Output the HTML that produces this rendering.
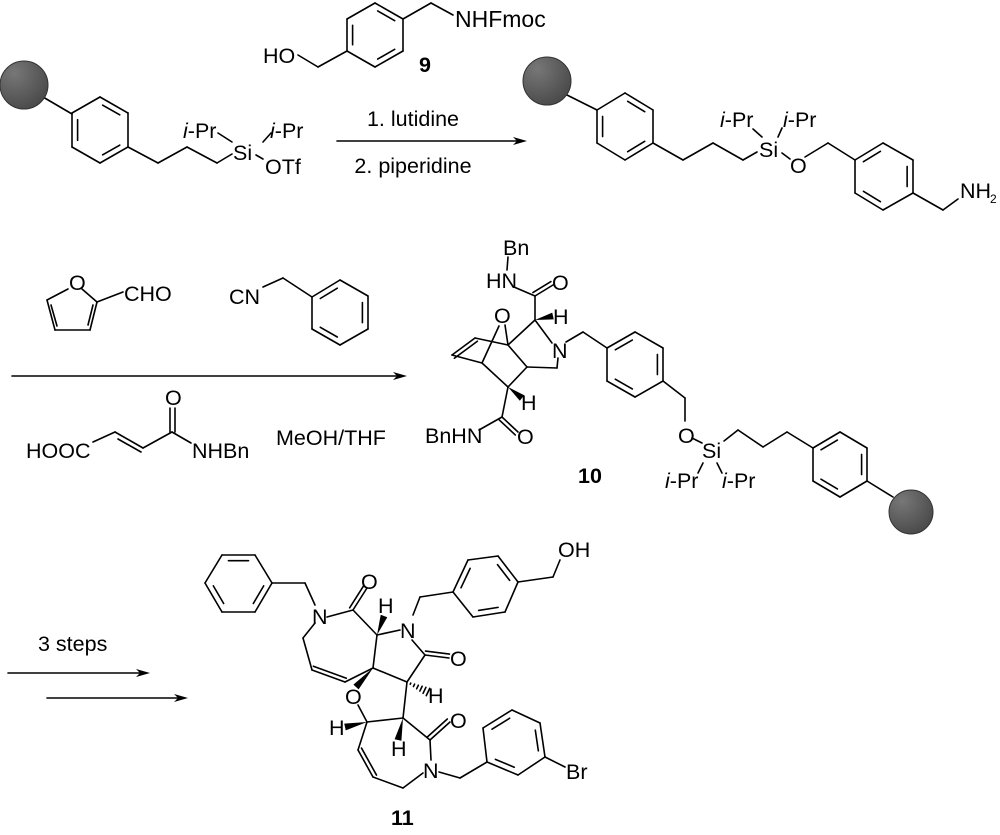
<!DOCTYPE html>
<html><head><meta charset="utf-8"><style>
html,body{margin:0;padding:0;background:#fff;width:1000px;height:835px;overflow:hidden}
svg{display:block}
text{font-family:"Liberation Sans",Arial,sans-serif;font-size:21.5px;fill:#000}
.b{font-weight:bold}
</style></head><body>
<svg id="s" width="1000" height="835" viewBox="0 0 1000 835" xmlns="http://www.w3.org/2000/svg">
<defs>
<radialGradient id="bead" cx="0.3" cy="0.25" r="0.8"><stop offset="0" stop-color="#777"/><stop offset="1" stop-color="#4a4a4a"/></radialGradient>
</defs>
<g id="bonds" stroke="#000" stroke-width="1.6" fill="none" stroke-linecap="round"></g>
<circle cx="24" cy="85" r="24" fill="url(#bead)" stroke="#333" stroke-width="1"/>
<circle cx="547" cy="81" r="24" fill="url(#bead)" stroke="#333" stroke-width="1"/>
<circle cx="911" cy="512" r="22" fill="url(#bead)" stroke="#333" stroke-width="1"/>
<text x="183" y="138"><tspan font-style="italic">i</tspan>-Pr</text>
<text x="270" y="138"><tspan font-style="italic">i</tspan>-Pr</text>
<text x="233" y="160">Si</text>
<text x="265" y="174">OTf</text>
<text x="263" y="63">HO</text>
<text x="455" y="27" style="font-size:23px">NHFmoc</text>
<text class="b" x="419" y="72">9</text>
<text x="413" y="126" text-anchor="middle">1. lutidine</text>
<text x="413" y="173" text-anchor="middle">2. piperidine</text>
<text x="720" y="127"><tspan font-style="italic">i</tspan>-Pr</text>
<text x="783" y="127"><tspan font-style="italic">i</tspan>-Pr</text>
<text x="759" y="157">Si</text>
<text x="790" y="173">O</text>
<text x="960" y="198">NH</text>
<text x="990" y="203" style="font-size:12px">2</text>
<text x="69" y="290">O</text>
<text x="124" y="301">CHO</text>
<text x="229" y="304">CN</text>
<text x="165" y="405">O</text>
<text x="26" y="458">HOOC</text>
<text x="192" y="458">NHBn</text>
<text x="276" y="445">MeOH/THF</text>
<text x="503" y="255">Bn</text>
<text x="486" y="288">HN</text>
<text x="552" y="290">O</text>
<text x="494" y="323">O</text>
<text x="553" y="324">H</text>
<text x="552" y="358">N</text>
<text x="521" y="410">H</text>
<text x="425" y="443">BnHN</text>
<text x="517" y="444">O</text>
<text class="b" x="578" y="483">10</text>
<text x="678" y="443">O</text>
<text x="702" y="458">Si</text>
<text x="665" y="488"><tspan font-style="italic">i</tspan>-Pr</text>
<text x="722" y="488"><tspan font-style="italic">i</tspan>-Pr</text>
<text x="38" y="651">3 steps</text>
<text x="312" y="624">N</text>
<text x="361" y="589">O</text>
<text x="378" y="613">H</text>
<text x="400" y="638">N</text>
<text x="558" y="557">OH</text>
<text x="450" y="666">O</text>
<text x="428" y="703">H</text>
<text x="345" y="704">O</text>
<text x="329" y="735">H</text>
<text x="391" y="756">H</text>
<text x="450" y="728">O</text>
<text x="423" y="778">N</text>
<text x="566" y="779">Br</text>
<text class="b" x="391" y="825">11</text>
</svg>
<script>
var g=document.getElementById('bonds'),NS='http://www.w3.org/2000/svg';
function L(a,b,c,d){var e=document.createElementNS(NS,'line');e.setAttribute('x1',a);e.setAttribute('y1',b);e.setAttribute('x2',c);e.setAttribute('y2',d);g.appendChild(e);}
function P(pts){for(var i=0;i<pts.length-1;i++)L(pts[i][0],pts[i][1],pts[i+1][0],pts[i+1][1]);}
function ring(p,dbl){var cx=0,cy=0;p.forEach(function(q){cx+=q[0];cy+=q[1]});cx/=p.length;cy/=p.length;
 for(var i=0;i<p.length;i++){var a=p[i],b=p[(i+1)%p.length];L(a[0],a[1],b[0],b[1]);}
 dbl.forEach(function(i){var a=p[i],b=p[(i+1)%p.length],f=0.2,s=0.12;
  var a2=[a[0]+(cx-a[0])*f,a[1]+(cy-a[1])*f],b2=[b[0]+(cx-b[0])*f,b[1]+(cy-b[1])*f];
  var dx=b2[0]-a2[0],dy=b2[1]-a2[1];L(a2[0]+dx*s,a2[1]+dy*s,b2[0]-dx*s,b2[1]-dy*s);});}
function dblL(a,b,c,d,o){L(a,b,c,d);var dx=c-a,dy=d-b,l=Math.hypot(dx,dy),nx=-dy/l*o,ny=dx/l*o;L(a+nx,b+ny,c+nx,d+ny);}
function arrow(x1,y,x2){L(x1,y,x2-8,y);var e=document.createElementNS(NS,'polygon');e.setAttribute('points',(x2)+','+y+' '+(x2-14)+','+(y-4)+' '+(x2-10)+','+y+' '+(x2-14)+','+(y+4));e.setAttribute('fill','#000');document.getElementById('s').appendChild(e);}
function wedge(a,b,c,d,w){var dx=c-a,dy=d-b,l=Math.hypot(dx,dy),nx=-dy/l*w,ny=dx/l*w;var e=document.createElementNS(NS,'polygon');e.setAttribute('points',a+','+b+' '+(c+nx)+','+(d+ny)+' '+(c-nx)+','+(d-ny));e.setAttribute('fill','#000');document.getElementById('s').appendChild(e);}
function hash(a,b,c,d,w){var n=6;for(var i=1;i<=n;i++){var t=i/n,x=a+(c-a)*t,y=b+(d-b)*t,dx=c-a,dy=d-b,l=Math.hypot(dx,dy),ww=w*t;L(x-dy/l*ww,y+dx/l*ww,x+dy/l*ww,y-dx/l*ww);}}
L(43,97,72,114);
ring([[100,97],[128,113],[128,147],[100,163],[72,147],[72,113]],[0,2,4]);
P([[128,147],[158,163],[187,147],[217,163],[232,154]]);
L(218,133,232,142);L(263,142,271,133);L(256,155,263,159);
ring([[375,3],[403,19],[403,51],[375,67],[347,51],[347,19]],[0,2,4]);
P([[347,51],[318,67],[298,55]]);P([[403,19],[431,3],[453,15]]);
arrow(337,141,527);
L(567,95,597,110);
ring([[625,93],[653,110],[653,143],[625,160],[597,143],[597,110]],[0,2,4]);
P([[653,143],[683,160],[713,143],[743,160],[757,152]]);
L(753,129,762,137);L(778,137,782,128);L(782,153,790,159);
P([[805,157],[828,143],[855,160]]);
ring([[855,160],[883,143],[913,160],[913,193],[883,210],[855,193]],[0,2,4]);
P([[913,193],[943,210],[958,199]]);
L(82,289,97,302);L(97,302,90,330);L(90,330,55,330);L(55,330,47,300);L(47,300,68,289);
L(93,305,88,325);L(51,305,57,326);
L(97,302,123,292);
P([[263,287],[283,278],[312,297]]);
ring([[312,297],[340,280],[368,296],[368,329],[340,345],[312,329]],[0,2,4]);
arrow(12,376,407);
P([[93,442],[115,432],[143,448],[172,432],[191,443]]);
L(118,439,141,452);
L(170,432,170,408);L(175,432,175,408);
L(508,257,507,270);
P([[514,287],[535,296]]);dblL(535,296,553,285,-4);
L(535,296,535,320);
wedge(535,320,553,316,3.5);
L(535,320,552,343);
P([[558,358],[557,368],[527,367]]);
L(535,320,508,345);
L(505,325,508,345);L(499,326,482,363);
dblL(475,338,452,355,-4);L(452,355,482,363);L(475,338,508,345);
L(508,345,527,367);L(482,363,508,387);L(508,387,527,367);
wedge(508,387,522,398,3.5);
L(508,387,502,417);dblL(502,417,518,432,4);L(502,417,479,430);
P([[566,342],[583,332],[607,348]]);
ring([[607,348],[635,332],[663,348],[663,381],[635,397],[607,381]],[0,2,4]);
P([[663,381],[685,398],[685,421]]);
L(692,438,702,443);
P([[724,441],[738,430],[763,447],[787,432],[813,448]]);
ring([[813,448],[840,432],[867,448],[867,481],[840,497],[813,481]],[0,2,4]);
L(867,481,893,497);
L(703,463,698,473);L(717,463,722,473);
arrow(8,673,150);arrow(47,698,188);
ring([[205,583],[222,555],[255,555],[272,583],[255,612],[222,612]],[1,3,5]);
P([[272,583],[305,583],[315,605]]);
L(327,617,353,610);dblL(353,610,367,588,-4);
L(353,610,377,635);
wedge(377,635,384,616,3.5);
L(377,635,400,630);
P([[413,615],[420,597],[453,592]]);
ring([[453,592],[468,560],[498,556],[518,582],[505,612],[473,617]],[0,2,4]);
P([[518,582],[553,577],[560,560]]);
L(412,640,425,655);dblL(425,655,449,658,-4);
L(425,655,407,682);
hash(407,682,428,692,4);
L(377,635,373,668);L(373,668,407,682);
L(373,668,345,682);dblL(345,682,312,670,4);P([[312,670],[303,638],[315,623]]);
wedge(373,668,356,687,3.5);
L(358,705,367,722);
wedge(367,722,345,727,3.5);
L(367,722,403,718);L(407,682,403,718);
wedge(403,718,398,740,3.5);
L(403,718,430,740);dblL(430,740,450,722,-4);
L(430,740,431,760);
P([[423,773],[403,788],[373,777]]);dblL(373,777,358,750,4);L(358,750,367,722);
P([[439,772],[460,778],[487,762]]);
ring([[487,762],[483,728],[512,710],[540,723],[545,757],[518,775]],[1,3,5]);
L(545,757,565,767);
</script>
</body></html>
